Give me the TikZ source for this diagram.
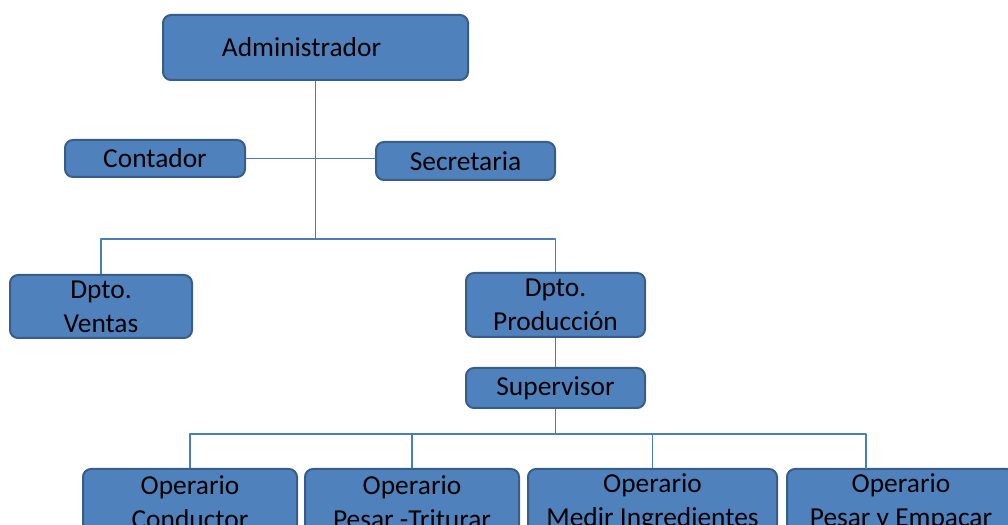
\documentclass[tikz,border=0pt]{standalone}
\usepackage{fontspec}
\setmainfont{Carlito}
\usepackage{tikz}
\usetikzlibrary{arrows.meta}
\definecolor{boxfill}{HTML}{4F81BD}
\definecolor{boxedge}{HTML}{385D8A}
\definecolor{linkline}{HTML}{4A7EBB}

\begin{document}
\begin{tikzpicture}[line join=bevel,
  orgbox/.style={draw=boxedge,fill=boxfill,line width=2bp,rounded corners=8bp,
    inner sep=0pt,align=center,text=black,font=\fontsize{27.5}{34}\selectfont},
  link/.style={draw=linkline,line width=1.1bp},
]
%%
\useasboundingbox (0bp,0bp) rectangle (1008bp,525bp);
\clip (0bp,0bp) rectangle (1008bp,525bp);
\node (node_admin) at (315.5bp,477.5bp) [orgbox,minimum width=305bp,minimum height=65bp] {\hspace*{-28bp}Administrador};
  \node (node_contador) at (155bp,366.5bp) [orgbox,minimum width=180bp,minimum height=37bp] {Contador};
  \node (node_secretaria) at (465.5bp,364bp) [orgbox,minimum width=179bp,minimum height=38bp] {Secretaria};
  \node (node_ventas) at (101bp,218.5bp) [orgbox,minimum width=182bp,minimum height=63bp] {Dpto.\\Ventas};
  \node (node_produccion) at (555.5bp,220bp) [orgbox,minimum width=179bp,minimum height=64bp] {Dpto.\\Producción};
  \node (node_supervisor) at (555.5bp,137bp) [orgbox,minimum width=179bp,minimum height=40bp] {Supervisor};
  \node (node_op1) at (190bp,23bp) [orgbox,minimum width=214bp,minimum height=66bp] {Operario\\Conductor};
  \node (node_op2) at (412bp,23bp) [orgbox,minimum width=214bp,minimum height=66bp] {Operario\\Pesar -Triturar};
  \node (node_op3) at (652.5bp,23bp) [orgbox,minimum width=249bp,minimum height=66bp] {Operario\\Medir Ingredientes};
  \node (node_op4) at (901bp,23bp) [orgbox,minimum width=228bp,minimum height=66bp] {Operario\\Pesar y Empacar};
  \coordinate (bus_top) at (315.5bp,286bp);
  \coordinate (bus_low) at (555.5bp,91bp);
  \coordinate (op4_top) at (866bp,56bp);
  \draw [link] (node_admin.south) -- (bus_top);
  \draw [link] (node_contador.east) -- (node_contador.east -| node_secretaria.west);
  \draw [link] (node_ventas.north) |- (bus_top) -| (node_produccion.north);
  \draw [link] (node_produccion.south) -- (node_supervisor.north);
  \draw [link] (node_supervisor.south) -- (bus_low);
  \draw [link] (node_op1.north) |- (bus_low) -| (op4_top);
  \draw [link] (node_op2.north) -- (node_op2.north |- bus_low);
  \draw [link] (node_op3.north) -- (node_op3.north |- bus_low);
%
\end{tikzpicture}
\end{document}
